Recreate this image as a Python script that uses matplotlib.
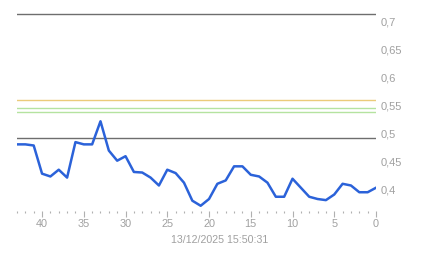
import matplotlib
matplotlib.use("Agg")
import matplotlib.pyplot as plt
from matplotlib.ticker import FixedLocator, MultipleLocator, FuncFormatter

# ─── Datos ───────────────────────────────────────────────────────────────────
dias = list(range(43, -1, -1))
valores = [
    0.481, 0.481, 0.479, 0.429, 0.424, 0.436, 0.422, 0.485, 0.481, 0.481,
    0.522, 0.470, 0.452, 0.460, 0.432, 0.431, 0.422, 0.408, 0.436, 0.430,
    0.413, 0.381, 0.372, 0.384, 0.411, 0.417, 0.442, 0.442, 0.427, 0.424,
    0.413, 0.388, 0.388, 0.420, 0.404, 0.388, 0.384, 0.382, 0.392, 0.411,
    0.408, 0.396, 0.396, 0.404,
]
niveles_gris = [0.712, 0.493]
niveles_color = [0.559, 0.546, 0.539]
colores_nivel = ["#EBCB7A", "#B5E3A0", "#B5E3A0"]
yticks = [0.4, 0.45, 0.5, 0.55, 0.6, 0.65, 0.7]
xticks = [40, 35, 30, 25, 20, 15, 10, 5, 0]
fecha = "13/12/2025 15:50:31"

COLOR_LINEA = "#2B62D9"
COLOR_TEXTO = "#A0A0A0"

plt.rcParams["font.family"] = ["Liberation Sans", "DejaVu Sans"]

W, H = 443, 258
fig = plt.figure(figsize=(W / 100, H / 100), dpi=100)
fig.patch.set_facecolor("white")
ax = fig.add_axes([17 / W, 47 / H, 359 / W, 199 / H])
ax.set_facecolor("white")

for y in niveles_gris:
    ax.axhline(y, color="#6E6E6E", linewidth=1.0, zorder=2)
for y, c in zip(niveles_color, colores_nivel):
    ax.axhline(y, color=c, linewidth=1.0, zorder=2)

ax.plot(dias, valores, color=COLOR_LINEA, linewidth=1.8, zorder=5)

ax.set_xlim(43, 0)
ax.set_ylim(0.3627, 0.716)

for s in ax.spines.values():
    s.set_visible(False)

ax.xaxis.set_major_locator(FixedLocator(xticks))
ax.xaxis.set_minor_locator(MultipleLocator(1))
ax.tick_params(axis="x", which="major", direction="out", length=4, width=0.8,
               color="#B0B0B0", labelcolor=COLOR_TEXTO, labelsize=7.8, pad=1.5)
ax.tick_params(axis="x", which="minor", direction="out", length=1.2, width=0.8,
               color="#B0B0B0")

ax.yaxis.tick_right()
ax.yaxis.set_major_locator(FixedLocator(yticks))
ax.yaxis.set_major_formatter(FuncFormatter(lambda v, p: f"{v:g}".replace(".", ",")))
ax.tick_params(axis="y", which="both", length=0, labelcolor=COLOR_TEXTO,
               labelsize=8, pad=3)

fig.text(219.5 / W, 1 - 240 / H, fecha, ha="center", va="center",
         color=COLOR_TEXTO, fontsize=7.7)

fig.savefig("out.png", dpi=100, facecolor="white")
plt.close(fig)
